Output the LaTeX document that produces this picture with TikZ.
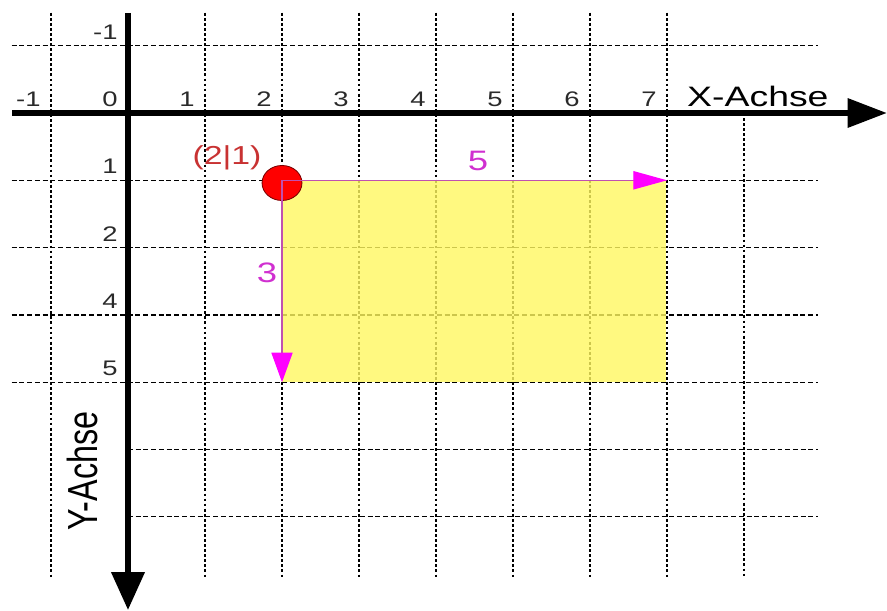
\documentclass[tikz,border=0pt]{standalone}
\usepackage{fontspec}
\setmainfont{Liberation Sans}
\usetikzlibrary{arrows.meta,shapes.geometric}
\definecolor{tick}{HTML}{2A2A2A}
\definecolor{gelb}{HTML}{FFF860}
\definecolor{pfeil}{HTML}{FF00FF}
\definecolor{pfeillinie}{HTML}{C050B0}
\definecolor{punkt}{HTML}{FF0000}
\definecolor{punktrand}{HTML}{7A0000}
\definecolor{punkttext}{HTML}{C83232}
\definecolor{masstext}{HTML}{D030D0}

\tikzset{
  gridh/.style={line width=0.9pt, dash pattern=on 3.5pt off 2pt},
  gridv/.style={line width=0.9pt, dash pattern=on 2pt off 1.6pt},
  achse/.style={line width=4.3pt},
  ticklabel/.style={anchor=south east, inner sep=0pt, xscale=1.3, text=tick, font=\fontsize{15}{15}\selectfont},
  masspfeil/.style={pfeillinie, line width=1pt},
  masszahl/.style={inner sep=0pt, xscale=1.3, text=masstext, font=\fontsize{20}{20}\selectfont},
}

\begin{document}
\begin{tikzpicture}[x=1.925cm, y=-1.6825cm]
  \useasboundingbox (-1.6623,-1.679) rectangle (9.857,7.385);
  \foreach \x in {-1,1,2,...,7}
    \draw[gridv] (\x,-1.49) -- (\x,6.91);
  \draw[gridv] (8,0) -- (8,6.91);
  \foreach \y in {-1,1,2,3,4}
    \draw[gridh] (-1.51,\y) -- (8.96,\y);
  \foreach \y in {5,6}
    \draw[gridh] (0,\y) -- (8.96,\y);

  \fill[gelb, fill opacity=0.8] (2,1) rectangle ([xshift=-0.5pt,yshift=0.5pt]7,4);

  \coordinate (xanf) at (-1.506,0);
  \coordinate (xend) at (9.857,0);
  \coordinate (yanf) at (0,-1.486);
  \coordinate (yend) at (0,7.385);
  \draw[achse, -{Triangle[length=28pt,width=20pt]}] (xanf) -- (xend);
  \draw[achse, -{Triangle[length=27pt,width=23pt]}] (yanf) -- (yend);

  \foreach \x in {-1,0,...,7}
    \node[ticklabel, xshift=-5.5pt, yshift=4.3pt] (tx\x) at (\x,0) {\x};
  \foreach \y/\t in {-1/-1,1/1,2/2,3/4,4/5}
    \node[ticklabel, xshift=-5.5pt, yshift=4.3pt] (ty\y) at (0,\y) {\t};

  \node[anchor=base, inner sep=0pt, xscale=1.33, font=\fontsize{20}{20}\selectfont] (xachse) at (8.18,-0.104) {X-Achse};
  \node[inner sep=0pt, rotate=90, yscale=1.3, font=\fontsize{23}{23}\selectfont] (yachse) at (-0.597,5.32) {Y-Achse};

  \node[ellipse, draw=punktrand, fill=punkt, line width=0.6pt, inner sep=0pt,
    minimum width=28.4pt, minimum height=24.9pt] (punkt) at (2,1.04) {};
  \node[inner sep=0pt, xscale=1.3, text=punkttext, font=\fontsize{18.5}{18.5}\selectfont] (koord) at (1.286,0.669) {(2|1)};

  \coordinate (P) at (2,1);
  \coordinate (Q) at (7,1);
  \coordinate (R) at (2,4);
  \draw[masspfeil, -{Triangle[length=24pt,width=13pt,color=pfeil]}] (P) -- (Q);
  \draw[masspfeil, -{Triangle[length=21pt,width=15pt,color=pfeil]}] (P) -- (R);
  \node[masszahl] (breite) at (4.545,0.713) {5};
  \node[masszahl] (hoehe) at (1.805,2.377) {3};
\end{tikzpicture}
\end{document}
